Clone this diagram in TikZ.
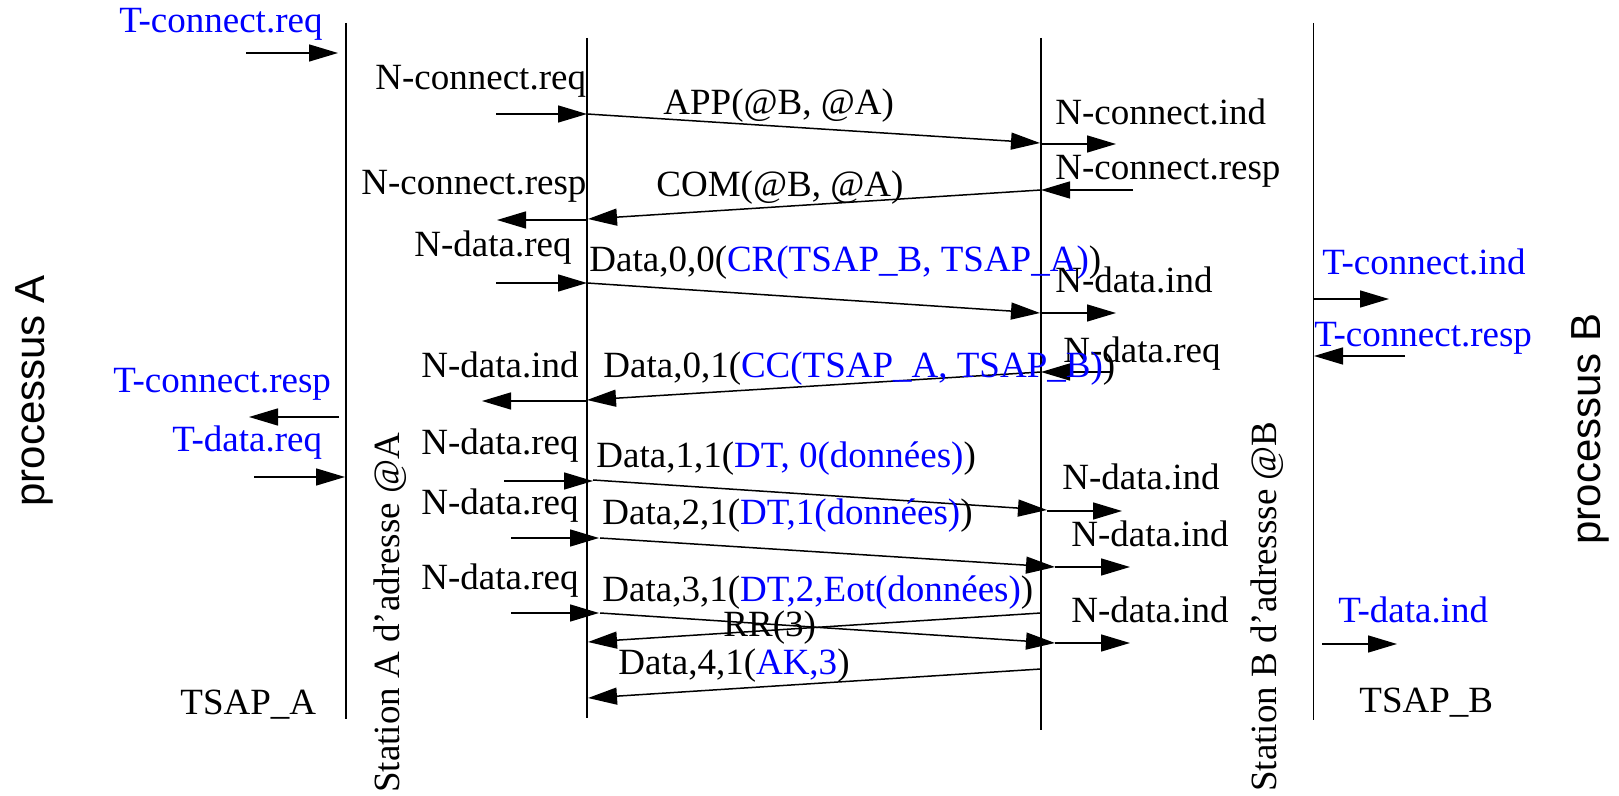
\documentclass[tikz,border=0pt]{standalone}
\usepackage{fontspec}
\setmainfont{Liberation Serif}
\newfontfamily\procfont{Liberation Sans}
\usepackage{tikz}
\usetikzlibrary{arrows.meta}
\tikzset{
  lifeline/.style={line width=0.75pt},
  msgarrow/.style={-{Triangle[length=14.5pt,width=8.5pt]}, line width=0.75pt},
  primlabel/.style={
    anchor=base west,
    inner sep=0pt,
    font=\fontsize{18.5}{20}\selectfont
  },
  tprim/.style={primlabel, text=blue},
  stationlabel/.style={primlabel, rotate=90},
  proclabel/.style={
    anchor=base west,
    inner sep=0pt,
    rotate=90,
    font=\procfont\fontsize{21}{24}\selectfont
  }
}

\begin{document}
\begin{tikzpicture}[x=0.5pt, y=-0.5pt]
  \useasboundingbox (0,0) rectangle (1619,796);

  % lifelines
  \coordinate (tsapAtop) at (346,23);
  \coordinate (tsapAbot) at (346,719);
  \coordinate (staAtop) at (587,38);
  \coordinate (staAbot) at (587,718);
  \coordinate (staBtop) at (1041,38);
  \coordinate (staBbot) at (1041,730);
  \coordinate (tsapBtop) at (1313.5,23);
  \coordinate (tsapBbot) at (1313.5,720);
  \draw[lifeline] (tsapAtop) -- (tsapAbot);
  \draw[lifeline] (staAtop) -- (staAbot);
  \draw[lifeline] (staBtop) -- (staBbot);
  \draw[lifeline] (tsapBtop) -- (tsapBbot);

  % side labels
  \node[proclabel] (procA) at (45,507) {processus A};
  \node[proclabel] (procB) at (1600,545) {processus B};
  \node[stationlabel] (staA) at (399,793) {Station A d'adresse @A};
  \node[stationlabel] (staB) at (1276,792) {Station B d'adressse @B};
  \node[primlabel] (tsapA) at (180,715) {TSAP\_A};
  \node[primlabel] (tsapB) at (1359,713) {TSAP\_B};

  % end points
  \coordinate (tcreqS) at (246,53);     \coordinate (tcreqE) at (338,53);
  \coordinate (ncreqS) at (496,114);    \coordinate (ncreqE) at (587,114);
  \coordinate (appS) at (587,114);      \coordinate (appE) at (1040,143);
  \coordinate (ncindS) at (1041,144);   \coordinate (ncindE) at (1116,144);
  \coordinate (ncrespBS) at (1133,190); \coordinate (ncrespBE) at (1041,190);
  \coordinate (comS) at (1041,190);     \coordinate (comE) at (588,219);
  \coordinate (ncrespAS) at (587,220);  \coordinate (ncrespAE) at (497,220);
  \coordinate (ndreqaS) at (496,283);   \coordinate (ndreqaE) at (587,283);
  \coordinate (crS) at (587,283);       \coordinate (crE) at (1040,313);
  \coordinate (ndindaS) at (1041,313);  \coordinate (ndindaE) at (1116,313);
  \coordinate (tcindS) at (1314,299);   \coordinate (tcindE) at (1389,299);
  \coordinate (tcrespBS) at (1405,356); \coordinate (tcrespBE) at (1314,356);
  \coordinate (ndreqBS) at (1110,372);  \coordinate (ndreqBE) at (1041,372);
  \coordinate (ccS) at (1041,372);      \coordinate (ccE) at (587,400);
  \coordinate (ndindAS) at (587,401);   \coordinate (ndindAE) at (482,401);
  \coordinate (tcrespAS) at (339,417);  \coordinate (tcrespAE) at (249,417);
  \coordinate (tdreqS) at (254,477);    \coordinate (tdreqE) at (345,477);
  \coordinate (ndreqbS) at (504,481);   \coordinate (ndreqbE) at (593,481);
  \coordinate (dtaS) at (593,480);      \coordinate (dtaE) at (1047,510);
  \coordinate (ndindbS) at (1047,511);  \coordinate (ndindbE) at (1122,511);
  \coordinate (ndreqcS) at (511,538);   \coordinate (ndreqcE) at (599,538);
  \coordinate (dtbS) at (600,538);      \coordinate (dtbE) at (1055,567);
  \coordinate (ndindcS) at (1055,567);  \coordinate (ndindcE) at (1130,567);
  \coordinate (ndreqdS) at (511,613);   \coordinate (ndreqdE) at (599,613);
  \coordinate (dtcS) at (600,613);      \coordinate (dtcE) at (1055,643);
  \coordinate (ndinddS) at (1055,643);  \coordinate (ndinddE) at (1130,643);
  \coordinate (rrS) at (1041,613);      \coordinate (rrE) at (588,642);
  \coordinate (akS) at (1041,669);      \coordinate (akE) at (588,698);
  \coordinate (tdindS) at (1322,644);   \coordinate (tdindE) at (1397,644);

  % messages
  \draw[msgarrow] (tcreqS) -- (tcreqE);
  \draw[msgarrow] (ncreqS) -- (ncreqE);
  \draw[msgarrow] (appS) -- (appE);
  \draw[msgarrow] (ncindS) -- (ncindE);
  \draw[msgarrow] (ncrespBS) -- (ncrespBE);
  \draw[msgarrow] (comS) -- (comE);
  \draw[msgarrow] (ncrespAS) -- (ncrespAE);
  \draw[msgarrow] (ndreqaS) -- (ndreqaE);
  \draw[msgarrow] (crS) -- (crE);
  \draw[msgarrow] (ndindaS) -- (ndindaE);
  \draw[msgarrow] (tcindS) -- (tcindE);
  \draw[msgarrow] (tcrespBS) -- (tcrespBE);
  \draw[msgarrow] (ndreqBS) -- (ndreqBE);
  \draw[msgarrow] (ccS) -- (ccE);
  \draw[msgarrow] (ndindAS) -- (ndindAE);
  \draw[msgarrow] (tcrespAS) -- (tcrespAE);
  \draw[msgarrow] (tdreqS) -- (tdreqE);
  \draw[msgarrow] (ndreqbS) -- (ndreqbE);
  \draw[msgarrow] (dtaS) -- (dtaE);
  \draw[msgarrow] (ndindbS) -- (ndindbE);
  \draw[msgarrow] (ndreqcS) -- (ndreqcE);
  \draw[msgarrow] (dtbS) -- (dtbE);
  \draw[msgarrow] (ndindcS) -- (ndindcE);
  \draw[msgarrow] (ndreqdS) -- (ndreqdE);
  \draw[msgarrow] (dtcS) -- (dtcE);
  \draw[msgarrow] (ndinddS) -- (ndinddE);
  \draw[msgarrow] (rrS) -- (rrE);
  \draw[msgarrow] (akS) -- (akE);
  \draw[msgarrow] (tdindS) -- (tdindE);

  % labels
  \node[tprim] (lTcreq) at (119,33) {T-connect.req};
  \node[primlabel] (lNcreq) at (375,90) {N-connect.req};
  \node[primlabel] (lApp) at (663,115) {APP(@B, @A)};
  \node[primlabel] (lNcind) at (1055,125) {N-connect.ind};
  \node[primlabel] (lNcrespB) at (1055,180) {N-connect.resp};
  \node[primlabel] (lNcrespA) at (361,195) {N-connect.resp};
  \node[primlabel] (lCom) at (656,197) {COM(@B, @A)};
  \node[primlabel] (lNdreqa) at (414,257) {N-data.req};
  \node[primlabel] (lCr) at (589,272) {Data,0,0(\textcolor{blue}{CR(TSAP\_B, TSAP\_A)})};
  \node[primlabel] (lNdinda) at (1055,293) {N-data.ind};
  \node[tprim] (lTcind) at (1322,275) {T-connect.ind};
  \node[tprim] (lTcrespB) at (1314,347) {T-connect.resp};
  \node[primlabel] (lNdreqB) at (1063,363) {N-data.req};
  \node[primlabel] (lCc) at (603,378) {Data,0,1(\textcolor{blue}{CC(TSAP\_A, TSAP\_B)})};
  \node[primlabel] (lNdindA) at (421,378) {N-data.ind};
  \node[tprim] (lTcrespA) at (113,393) {T-connect.resp};
  \node[tprim] (lTdreq) at (172,452) {T-data.req};
  \node[primlabel] (lNdreqb) at (421,455) {N-data.req};
  \node[primlabel] (lDta) at (596,468) {Data,1,1(\textcolor{blue}{DT, 0(données)})};
  \node[primlabel] (lNdindb) at (1062,490) {N-data.ind};
  \node[primlabel] (lNdreqc) at (421,515) {N-data.req};
  \node[primlabel] (lDtb) at (602,525) {Data,2,1(\textcolor{blue}{DT,1(données)})};
  \node[primlabel] (lNdindc) at (1071,547) {N-data.ind};
  \node[primlabel] (lNdreqd) at (421,590) {N-data.req};
  \node[primlabel] (lDtc) at (602,602) {Data,3,1(\textcolor{blue}{DT,2,Eot(données)})};
  \node[primlabel] (lNdindd) at (1071,623) {N-data.ind};
  \node[primlabel] (lRr) at (723,637) {RR(3)};
  \node[primlabel] (lAk) at (618,675) {Data,4,1(\textcolor{blue}{AK,3})};
  \node[tprim] (lTdind) at (1338,623) {T-data.ind};
\end{tikzpicture}
\end{document}
